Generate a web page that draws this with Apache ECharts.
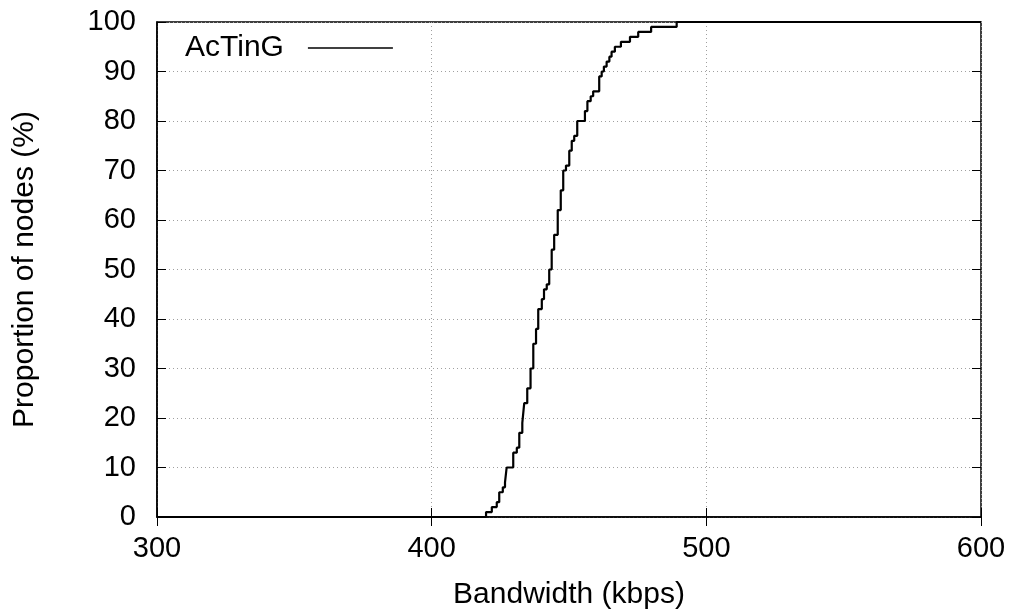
<!DOCTYPE html>
<html>
<head>
<meta charset="utf-8">
<script src="https://cdn.jsdelivr.net/npm/echarts@6/dist/echarts.min.js"></script>
<style>
  html, body { margin: 0; padding: 0; background: #ffffff; }
  #chart { width: 1016px; height: 615px; }
</style>
</head>
<body>
<div id="chart"></div>
<script>
// CDF of node bandwidth: [kbps, proportion %] where the curve jumps up
const seriesName = 'AcTinG';
const bandwidth = [300, 419.8, 421.9, 423.7, 424.6, 425.9, 426.7, 427.3, 429.7, 431.0, 431.9, 433.0, 433.7, 434.8,
    436.0, 437.0, 438.0, 438.8, 440.1, 440.9, 441.9, 442.8, 443.7, 444.6, 445.9, 447.0, 447.9, 448.9, 450.1,
    451.0, 451.9, 453.0, 455.8, 456.7, 457.9, 458.8, 461.0, 461.9, 462.7, 463.7, 464.7, 465.5, 466.7, 468.9,
    472.2, 475.2, 479.9, 489.2, 600];
const proportion = [0, 1, 2, 3, 5, 6, 7, 10, 13, 14, 17, 19, 23, 26,
    30, 35, 38, 42, 44, 46, 47, 50, 54, 57, 62, 66, 70, 71, 74,
    76, 77, 80, 82, 84, 85, 86, 89, 90, 91, 92, 93, 94, 95, 96,
    97, 98, 99, 100, 100];
const xTicks = [300, 400, 500, 600];
const yTicks = [0, 10, 20, 30, 40, 50, 60, 70, 80, 90, 100];

function buildPoints() {
    const points = [];
    for (let i = 0; i < bandwidth.length; i++) {
        points.push([bandwidth[i], proportion[i]]);
    }
    return points;
}

const fontFamily = 'Liberation Sans, Arial, sans-serif';
const textColor = '#000000';
const gridColor = '#a0a0a0';

const chart = echarts.init(document.getElementById('chart'));

const option = {
    animation: false,
    backgroundColor: '#ffffff',
    grid: {
        left: 157,
        right: 35,
        top: 22,
        bottom: 98,
        show: true,
        borderColor: '#000000',
        borderWidth: 1.5,
        containLabel: false
    },
    legend: {
        left: 180,
        top: 28,
        align: 'right',
        itemWidth: 85,
        itemHeight: 14,
        itemGap: 0,
        textStyle: { fontSize: 30, color: textColor, fontFamily: fontFamily, padding: [0, 19, 0, 0] },
        data: [{ name: seriesName, icon: 'path://M0,7 L85,7 L85,8.5 L0,8.5 Z' }],
        itemStyle: { color: '#000000' }
    },
    xAxis: [{
        type: 'value',
        min: xTicks[0],
        max: xTicks[xTicks.length - 1],
        interval: 100,
        name: 'Bandwidth (kbps)',
        nameLocation: 'middle',
        nameGap: 63,
        nameTextStyle: { fontSize: 30, color: textColor, fontFamily: fontFamily },
        axisLine: { show: true, lineStyle: { color: '#000000', width: 1.5 } },
        axisTick: { show: true, inside: true, length: 9, lineStyle: { color: '#000000' } },
        axisLabel: { fontSize: 29, color: textColor, fontFamily: fontFamily, margin: 17 },
        splitLine: { show: true, lineStyle: { color: gridColor, type: [1, 3], width: 1 } }
    }, {
        type: 'value',
        position: 'top',
        min: xTicks[0],
        max: xTicks[xTicks.length - 1],
        interval: 100,
        axisLine: { show: false },
        axisTick: { show: true, inside: true, length: 9, lineStyle: { color: '#000000' } },
        axisLabel: { show: false },
        splitLine: { show: false }
    }],
    yAxis: [{
        type: 'value',
        min: yTicks[0],
        max: yTicks[yTicks.length - 1],
        interval: 10,
        name: 'Proportion of nodes (%)',
        nameLocation: 'middle',
        nameGap: 117,
        nameTextStyle: { fontSize: 30, color: textColor, fontFamily: fontFamily },
        axisLine: { show: true, lineStyle: { color: '#000000', width: 1.5 } },
        axisTick: { show: true, inside: true, length: 9, lineStyle: { color: '#000000' } },
        axisLabel: { fontSize: 29, color: textColor, fontFamily: fontFamily, margin: 21 },
        splitLine: { show: true, lineStyle: { color: gridColor, type: [1, 3], width: 1 } }
    }, {
        type: 'value',
        position: 'right',
        min: yTicks[0],
        max: yTicks[yTicks.length - 1],
        interval: 10,
        axisLine: { show: false },
        axisTick: { show: true, inside: true, length: 9, lineStyle: { color: '#000000' } },
        axisLabel: { show: false },
        splitLine: { show: false }
    }],
    series: [{
        name: seriesName,
        type: 'line',
        step: 'end',
        showSymbol: false,
        symbol: 'none',
        data: buildPoints(),
        lineStyle: { color: '#000000', width: 2.2 },
        itemStyle: { color: '#000000' },
        z: 5
    }]
};

chart.setOption(option);
</script>
</body>
</html>
